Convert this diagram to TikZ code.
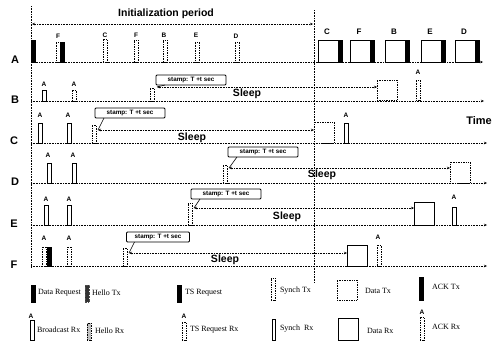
\documentclass[tikz,border=0pt]{standalone}
\usepackage{fontspec}
\setmainfont{Liberation Serif}
\setsansfont{Liberation Sans}
\usetikzlibrary{arrows.meta}
\begin{document}
\begin{tikzpicture}[x=1pt,y=-1pt,
  every node/.style={inner sep=0pt, outer sep=0pt},
  rxb/.style={draw=black, line width=0.5pt, fill=white, minimum width=4pt, anchor=south west},
  dotb/.style={draw=black, densely dotted, line width=0.7pt, fill=white, minimum width=4pt, anchor=south west},
  hrx/.style={draw=black, densely dotted, line width=0.7pt, fill=black!25, minimum width=4pt, anchor=south west},
  txb/.style={draw=black, fill=black, minimum width=4pt, anchor=south west},
  dbox/.style={draw=black, line width=0.6pt, fill=white, minimum width=20pt, anchor=south west},
  dtbox/.style={draw=black, densely dotted, line width=0.7pt, fill=white, minimum width=20pt, anchor=south west},
  lbl/.style={font=\sffamily\bfseries\fontsize{6.5}{7}\selectfont},
  lblb/.style={font=\sffamily\bfseries\fontsize{8}{9}\selectfont},
  rowlbl/.style={font=\sffamily\bfseries\fontsize{11}{12}\selectfont},
  sleep/.style={font=\sffamily\bfseries\fontsize{10.5}{11}\selectfont},
  stamp/.style={draw=black, line width=0.9pt, rounded corners=1pt, fill=white, minimum width=70pt, minimum height=10pt, font=\sffamily\bfseries\fontsize{6.3}{7}\selectfont},
  base/.style={densely dotted, line width=0.6pt, -{Stealth[length=3pt,width=2.5pt]}},
  sleeparr/.style={densely dotted, line width=0.6pt, {Stealth[length=3pt,width=2.5pt]}-{Stealth[length=3pt,width=2.5pt]}},
  vline/.style={densely dotted, line width=0.6pt},
  leg/.style={font=\fontsize{8}{9}\selectfont, anchor=west},
]
\useasboundingbox (0,0) rectangle (492,343);

% vertical dotted lines
\coordinate (v1t) at (31,6);
\coordinate (v1b) at (31,268);
\draw[vline] (v1t) -- (v1b);
\coordinate (v2t) at (314,10);
\coordinate (v2b) at (314,283);
\draw[vline] (v2t) -- (v2b);

% initialization period
\node[font=\sffamily\bfseries\fontsize{10.5}{12}\selectfont] (init) at (166,14) {Initialization period};
\coordinate (i1) at (32,24);
\coordinate (i2) at (313,24);
\draw[sleeparr] (i1) -- (i2);

% row labels
\node[rowlbl] (LA) at (15,60) {A};
\node[rowlbl] (LB) at (15,100) {B};
\node[rowlbl] (LC) at (14,141) {C};
\node[rowlbl] (LD) at (15,182) {D};
\node[rowlbl] (LE) at (14,224) {E};
\node[rowlbl] (LF) at (14,265) {F};
\node[font=\sffamily\bfseries\fontsize{11}{12}\selectfont] (time) at (479,121) {Time};

% baselines
\foreach \r/\y/\e in {A/62/483, B/101/484, C/143/487, D/183/487, E/225/487, F/266/487} {
  \coordinate (s\r) at (31,\y);
  \coordinate (e\r) at (\e,\y);
  \draw[base] (s\r) -- (e\r);
}

% ---------- Row A ----------
\node[txb, minimum height=22pt] (A1) at (31,62) {};
\node[dotb, minimum height=20pt] (A2) at (56,62) {};
\node[txb, minimum height=20pt] (A2b) at (60,62) {};
\node[lbl] (lA2) at (58,36) {F};
\node[dotb, minimum height=23pt] (A3) at (103,62) {};
\node[lbl] (lA3) at (105,35) {C};
\node[dotb, minimum height=22pt] (A4) at (134,62) {};
\node[lbl] (lA4) at (136,35) {F};
\node[dotb, minimum height=22pt] (A5) at (163,62) {};
\node[lbl] (lA5) at (164,35) {B};
\node[dotb, minimum height=20pt] (A6) at (195,62) {};
\node[lbl] (lA6) at (196,35) {E};
\node[dotb, minimum height=20pt] (A7) at (235,62) {};
\node[lbl] (lA7) at (236,36) {D};
\foreach \n/\x in {C/318, F/350, B/385, E/421, D/455} {
  \node[dbox, minimum height=22pt] (AD\n) at (\x,62) {};
  \node[txb, minimum height=22pt] (AK\n) at (\x+20,62) {};
  \node[lblb] (lAD\n) at (\x+9,32) {\n};
}

% ---------- Row B ----------
\node[rxb, minimum height=11pt] (B1) at (42,101) {};
\node[lbl] (lB1) at (44,84) {A};
\node[dotb, minimum height=11pt] (B2) at (72,101) {};
\node[lbl] (lB2) at (74,84) {A};
\node[dotb, minimum height=13pt] (B3) at (150,101) {};
\node[stamp] (sB) at (191,80) {stamp: T +t sec};
\node[dtbox, minimum height=20pt] (dB) at (377,100) {};
\coordinate (aB) at (157,87);
\draw[sleeparr] (aB) -- (aB -| dB.west);
\draw[line width=0.6pt] ([xshift=9pt]sB.south west) -- (aB);
\node[sleep] (slB) at (247,94) {Sleep};
\node[dotb, minimum height=20pt] (B4) at (416,100) {};
\node[lbl] (lB4) at (418,72) {A};

% ---------- Row C ----------
\node[rxb, minimum height=20pt] (C1) at (38,143) {};
\node[lbl] (lC1) at (40,115) {A};
\node[rxb, minimum height=20pt] (C2) at (67,143) {};
\node[lbl] (lC2) at (68,115) {A};
\node[dotb, minimum height=18pt] (C3) at (92,143) {};
\node[stamp] (sC) at (130,113) {stamp: T +t sec};
\node[dtbox, minimum height=21pt] (dC) at (314,143) {};
\coordinate (aC) at (98,130);
\draw[sleeparr] (aC) -- (aC -| dC.west);
\draw[line width=0.6pt] ([xshift=9pt]sC.south west) -- (aC);
\node[sleep] (slC) at (192,138) {Sleep};
\node[rxb, minimum height=20pt] (C4) at (344,143) {};
\node[lbl] (lC4) at (346,115) {A};

% ---------- Row D ----------
\node[rxb, minimum height=20pt] (D1) at (47,183) {};
\node[lbl] (lD1) at (48,155) {A};
\node[rxb, minimum height=20pt] (D2) at (72,183) {};
\node[lbl] (lD2) at (73,155) {A};
\node[dotb, minimum height=18pt] (D3) at (223,183) {};
\node[stamp] (sD) at (263,152) {stamp: T +t sec};
\node[dtbox, minimum height=21pt] (dD) at (450,183) {};
\coordinate (aD) at (229,168);
\draw[sleeparr] (aD) -- (aD -| dD.west);
\draw[line width=0.6pt] ([xshift=9pt]sD.south west) -- (aD);
\node[sleep] (slD) at (322,175) {Sleep};

% ---------- Row E ----------
\node[rxb, minimum height=20pt] (E1) at (44,225) {};
\node[lbl] (lE1) at (46,199) {A};
\node[rxb, minimum height=20pt] (E2) at (67,225) {};
\node[lbl] (lE2) at (69,199) {A};
\node[dotb, minimum height=22pt] (E3) at (188,225) {};
\node[stamp] (sE) at (226,194) {stamp: T +t sec};
\node[dbox, minimum height=23pt] (dE) at (414,225) {};
\coordinate (aE) at (194,208);
\draw[sleeparr] (aE) -- (aE -| dE.west);
\draw[line width=0.6pt] ([xshift=9pt]sE.south west) -- (aE);
\node[sleep] (slE) at (287,217) {Sleep};
\node[rxb, minimum height=18pt] (E4) at (452,225) {};
\node[lbl] (lE4) at (454,197) {A};

% ---------- Row F ----------
\node[dotb, minimum height=19pt] (F1) at (42,266) {};
\node[txb, minimum height=19pt] (F1b) at (47,266) {};
\node[lbl] (lF1) at (44,238) {A};
\node[dotb, minimum height=19pt] (F2) at (67,266) {};
\node[lbl] (lF2) at (69,238) {A};
\node[dotb, minimum height=18pt] (F3) at (123,266) {};
\node[stamp, minimum width=63pt] (sF) at (158,237) {stamp: T +t sec};
\node[dbox, minimum height=21pt] (dF) at (347,266) {};
\coordinate (aF) at (129,253);
\draw[sleeparr] (aF) -- (aF -| dF.west);
\draw[line width=0.6pt] ([xshift=8pt]sF.south west) -- (aF);
\node[sleep] (slF) at (225,260) {Sleep};
\node[dotb, minimum height=21pt] (F4) at (377,266) {};
\node[lbl] (lF4) at (378,237) {A};

% ---------- Legend row 1 ----------
\node[txb, minimum height=17pt] (k1) at (31,302) {};
\node[leg] (t1) at (38,293) {Data Request};
\node[txb, draw=black!70, densely dotted, fill=black!80, minimum height=17pt] (k2) at (85,302) {};
\node[leg] (t2) at (92,293) {Hello Tx};
\node[txb, minimum height=17pt] (k3) at (177,302) {};
\node[leg] (t3) at (185,293) {TS Request};
\node[dotb, minimum height=22pt] (k4) at (271,300) {};
\node[leg] (t4) at (280,291) {Synch Tx};
\node[dtbox, minimum height=20pt] (k5) at (337,300) {};
\node[leg] (t5) at (365,291) {Data Tx};
\node[txb, minimum height=23pt] (k6) at (419,300) {};
\node[leg] (t6) at (432,287) {ACK Tx};

% ---------- Legend row 2 ----------
\node[rxb, minimum height=20pt] (m1) at (30,340) {};
\node[lbl] (lm1) at (31,316) {A};
\node[leg] (u1) at (37,330) {Broadcast Rx};
\node[hrx, minimum height=17pt] (m2) at (87,340) {};
\node[leg] (u2) at (95,331) {Hello Rx};
\node[dotb, minimum height=18pt] (m3) at (182,340) {};
\node[lbl] (lm3) at (184,316) {A};
\node[leg] (u3) at (190,330) {TS Request Rx};
\node[rxb, minimum width=3pt, minimum height=21pt] (m4) at (272,340) {};
\node[leg] (u4) at (280,329) {Synch~ Rx};
\node[dbox, minimum height=22pt] (m5) at (338,340) {};
\node[leg] (u5) at (367,331) {Data Rx};
\node[dotb, minimum height=23pt] (m6) at (420,340) {};
\node[lbl] (lm6) at (422,312) {A};
\node[leg] (u6) at (432,327) {ACK Rx};
\end{tikzpicture}
\end{document}
